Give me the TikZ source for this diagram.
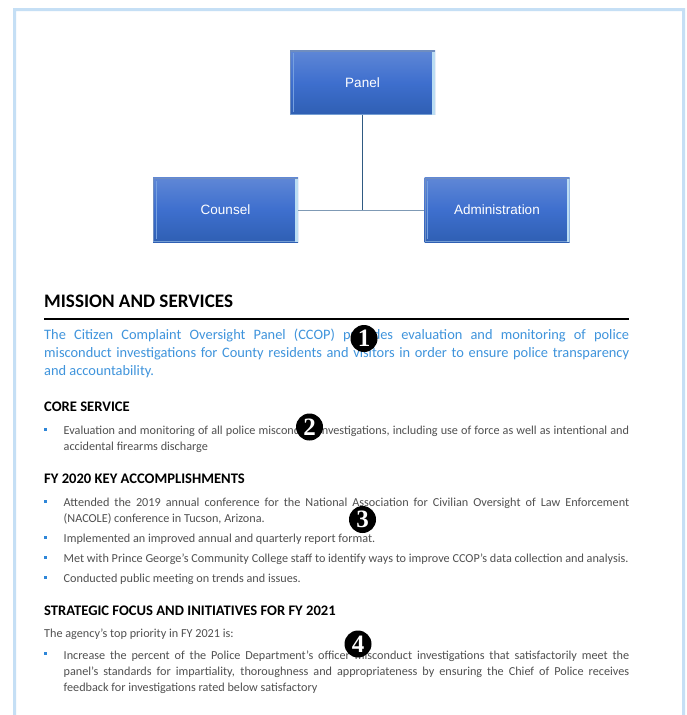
\documentclass[tikz,border=0pt]{standalone}
\usepackage{fontspec}
\setmainfont{Carlito}
\newfontfamily\arialf{Liberation Sans}
\newfontfamily\digitf{Liberation Serif}
\usetikzlibrary{calc}
\definecolor{framec}{HTML}{C5DFF5}
\definecolor{bluetxt}{HTML}{3F94DC}
\definecolor{graytxt}{HTML}{505050}
\definecolor{bullc}{HTML}{2E86D8}
\definecolor{boxtop}{HTML}{5F87D6}
\definecolor{boxmid}{HTML}{3E6FCE}
\definecolor{boxbot}{HTML}{2F5FB3}
\definecolor{edgel}{HTML}{BBDDF3}
\definecolor{edgetop}{HTML}{6F8DBF}
\definecolor{linevc}{HTML}{2F5A82}
\definecolor{linehc}{HTML}{7F9AB5}
\tikzset{
 orgbox/.style={minimum width=145pt,minimum height=64.5pt,inner sep=0pt,text=white,
   font=\arialf\fontsize{13.5}{16}\selectfont,
   top color=boxtop,bottom color=boxbot,middle color=boxmid,
   path picture={
     \fill[edgel] ($(path picture bounding box.north east)+(-3pt,0)$) rectangle (path picture bounding box.south east);
     \fill[edgel!45!boxmid] ($(path picture bounding box.north west)+(2.5pt,-3pt)$) rectangle ($(path picture bounding box.south west)+(3.5pt,3pt)$);
     \fill[edgetop] (path picture bounding box.north west) rectangle ($(path picture bounding box.north east)+(0,-1.5pt)$);
     \fill[edgetop] (path picture bounding box.north west) rectangle ($(path picture bounding box.south west)+(1.2pt,0)$);
     \fill[edgel!50!boxbot] (path picture bounding box.south west) rectangle ($(path picture bounding box.south east)+(-3pt,1pt)$);
   }},
 linev/.style={inner sep=0pt,anchor=base west},
 head/.style={linev,font=\bfseries\fontsize{19.1}{21}\selectfont,text=black},
 sub/.style={linev,font=\bfseries\fontsize{14.6}{16}\selectfont,text=black},
 blue/.style={linev,font=\fontsize{14.4}{17}\selectfont,text=bluetxt},
 body/.style={linev,font=\fontsize{12.2}{14}\selectfont,text=graytxt},
 bull/.style={fill=bullc,inner sep=0pt,minimum size=3pt},
 num/.style={circle,fill=black,text=white,inner sep=0pt,minimum size=27pt,font=\digitf\bfseries\fontsize{25}{25}\selectfont}
}
\newcommand{\jl}[1]{\makebox[585pt][s]{#1}}
\newcommand{\jb}[1]{\makebox[565.5pt][s]{#1}}
\begin{document}
\begin{tikzpicture}[x=1pt,y=-1pt]
\useasboundingbox (0,0) rectangle (686,715);
\fill[white] (0,0) rectangle (686,715);
\fill[framec] (13,715) -- (13,8) -- (685,8) -- (685,715) -- (682,715) -- (682,11) -- (16,11) -- (16,715) -- cycle;
% org chart
\node[orgbox] (panel) at (362.5,82.5) {Panel};
\node[orgbox] (counsel) at (225.5,210) {Counsel};
\node[orgbox] (admin) at (497,210) {Administration};
\coordinate (junction) at (panel.south |- counsel.east);
\draw[linehc,line width=1pt] (counsel.east) -- (admin.west);
\draw[linevc,line width=1pt] (panel.south) -- (junction);
% headings and text
\node[head] (h1) at (44,307) {MISSION AND SERVICES};
\coordinate (ruleL) at (44,319);
\coordinate (ruleR) at (629,319);
\draw[line width=1.6pt,black] (ruleL) -- (ruleR);
\node[blue] (b1) at (44,339) {\jl{The Citizen Complaint Oversight Panel (CCOP) provides evaluation and monitoring of police}};
\node[blue] (b2) at (44,357) {\jl{misconduct investigations for County residents and visitors in order to ensure police transparency}};
\node[blue] (b3) at (44,375) {and accountability.};
\node[sub] (h2) at (44,411) {CORE SERVICE};
\node[bull] (p1) at (45.5,429) {};
\node[body] (c1) at (63.5,434) {\jb{Evaluation and monitoring of all police misconduct investigations, including use of force as well as intentional and}};
\node[body] (c2) at (63.5,450) {accidental firearms discharge};
\node[sub] (h3) at (44,483) {FY 2020 KEY ACCOMPLISHMENTS};
\node[bull] (p2) at (45.5,501) {};
\node[body] (a1) at (63.5,506) {\jb{Attended the 2019 annual conference for the National Association for Civilian Oversight of Law Enforcement}};
\node[body] (a2) at (63.5,522) {(NACOLE) conference in Tucson, Arizona.};
\node[bull] (p3) at (45.5,537) {};
\node[body] (a3) at (63.5,542) {Implemented an improved annual and quarterly report format.};
\node[bull] (p4) at (45.5,557) {};
\node[body] (a4) at (63.5,562) {Met with Prince George’s Community College staff to identify ways to improve CCOP’s data collection and analysis.};
\node[bull] (p5) at (45.5,577) {};
\node[body] (a5) at (63.5,582) {Conducted public meeting on trends and issues.};
\node[sub] (h4) at (44,615) {STRATEGIC FOCUS AND INITIATIVES FOR FY 2021};
\node[body] (s0) at (44,637) {The agency’s top priority in FY 2021 is:};
\node[bull] (p6) at (45.5,653) {};
\node[body] (s1) at (63.5,659) {\jb{Increase the percent of the Police Department’s officer misconduct investigations that satisfactorily meet the}};
\node[body] (s2) at (63.5,675) {\jb{panel’s standards for impartiality, thoroughness and appropriateness by ensuring the Chief of Police receives}};
\node[body] (s3) at (63.5,691) {feedback for investigations rated below satisfactory};
% numbered markers
\node[num] (n1) at (364,338.5) {1};
\node[num] (n2) at (309.5,427) {2};
\node[num] (n3) at (362.5,519.5) {3};
\node[num] (n4) at (358,644) {4};
\end{tikzpicture}
\end{document}
